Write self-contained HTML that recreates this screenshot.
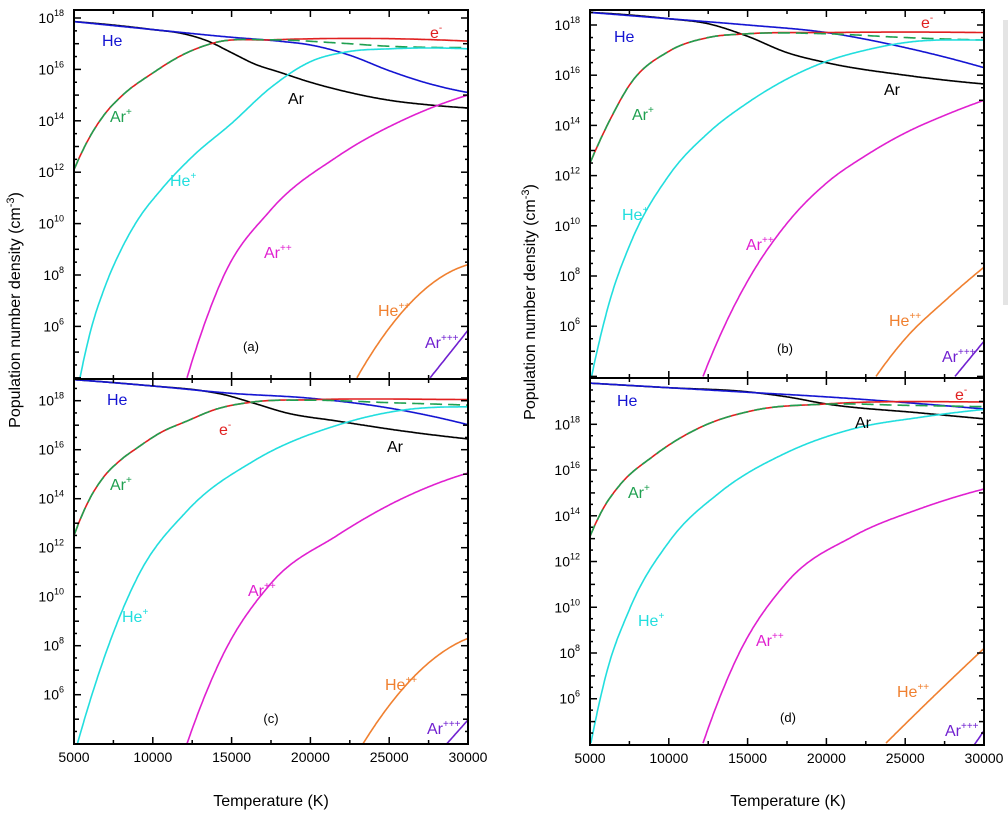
<!DOCTYPE html>
<html><head><meta charset="utf-8">
<style>
body{margin:0;background:#fff;}
svg{display:block;font-family:"Liberation Sans",Arial,sans-serif;}
</style></head>
<body>
<svg id="fig" width="1008" height="815" viewBox="0 0 1008 815">
<rect x="1003" y="20" width="5" height="285" fill="#e4e4e4"/>
<text x="0" y="0" transform="translate(20,310) rotate(-90)" text-anchor="middle" font-size="16">Population number density (cm<tspan dy="-6" font-size="11">-3</tspan><tspan dy="6">)</tspan></text>
<text x="0" y="0" transform="translate(535,302) rotate(-90)" text-anchor="middle" font-size="16">Population number density  (cm<tspan dy="-6" font-size="11">-3</tspan><tspan dy="6">)</tspan></text>
<text x="271" y="806" text-anchor="middle" font-size="16">Temperature (K)</text>
<text x="788" y="806" text-anchor="middle" font-size="16">Temperature (K)</text>
</svg>
<script>
// ---- data (log10 of density, cm^-3) ----
const xTicks=[5000,10000,15000,20000,25000,30000];
// panel (a)
const aHeT=[5000,10000,15000,18000,20000,22500,25000,27500,30000], aHe=[17.86,17.55,17.25,17.1,16.95,16.55,15.95,15.45,15.1];
const aArT=[5000,10000,12000,13500,15000,16500,18000,20000,22500,25000,27500,30000], aAr=[17.86,17.55,17.38,17.1,16.65,16.2,15.9,15.5,15.1,14.8,14.62,14.5];
const aEt=[5000,6000,7000,8000,10000,12000,14000,17500,30000], aE=[12.1,13.37,14.3,14.95,15.86,16.6,17.05,17.15,17.1];
const aArpT=[5000,6000,7000,8000,10000,12000,14000,17500,21700,25000,30000], aArp=[12.1,13.37,14.3,14.95,15.86,16.6,17.05,17.15,17.03,16.9,16.85];
const aHepT=[5380,6000,7000,8000,9000,10500,12500,15000,17500,20000,22500,25000,30000], aHep=[4.0,5.7,7.6,9.0,10.1,11.3,12.6,13.9,15.3,16.3,16.7,16.8,16.8];
const aArppT=[12170,13000,14450,17440,21690,25880,30000], aArpp=[4,5.6,7.9,10.5,12.6,14.03,15.0];
const aHeppT=[22950,25880,30000], aHepp=[4,6.6,8.4];
const aArpppT=[27600,30000], aArppp=[4,5.85];
// panel (b)
const bHeT=[5000,10000,15000,20000,25000,30000], bHe=[18.5,18.25,18.0,17.7,17.1,16.3];
const bArT=[5000,10000,12500,15000,17500,20000,25000,30000], bAr=[18.5,18.25,18.05,17.55,16.9,16.5,16.0,15.65];
const bEt=[5000,6250,7500,10000,12500,15000,20000,30000], bE=[12.5,14.2,15.6,16.95,17.5,17.65,17.7,17.7];
const bArpT=[5000,6250,7500,10000,12500,15000,20000,25000,30000], bArp=[12.5,14.2,15.6,16.95,17.5,17.65,17.65,17.5,17.4];
const bHepT=[5100,6250,7500,10000,12500,15000,17500,20000,22500,25000,30000], bHep=[4,7.0,9.2,12.0,13.7,14.9,15.85,16.55,17.0,17.3,17.4];
const bArppT=[12170,13750,15000,17500,20000,22500,25000,27500,30000], bArpp=[4,6.3,7.8,10.1,11.7,12.8,13.7,14.4,15.0];
const bHeppT=[23150,25000,27500,30000], bHepp=[4,5.5,7.0,8.35];
const bArpppT=[28160,30000], bArppp=[4,5.4];
// panel (c)
const cHeT=[5000,10000,15000,20000,25000,30000], cHe=[18.86,18.6,18.3,18.1,17.7,17.02];
const cArT=[5000,10000,13200,14500,16400,18500,21700,25900,30000], cAr=[18.86,18.6,18.4,18.25,17.9,17.5,17.17,16.76,16.44];
const cEt=[5000,6000,6840,8000,9000,10500,12170,14000,16400,20000,30000], cE=[12.5,14.0,14.85,15.6,16.07,16.7,17.17,17.65,17.95,18.04,18.05];
const cArpT=[5000,6000,6840,8000,9000,10500,12170,14000,16400,20000,25000,30000], cArp=[12.5,14.0,14.85,15.6,16.07,16.7,17.17,17.65,17.95,18.02,17.92,17.82];
const cHepT=[5200,6840,9000,12170,16400,21700,25900,30000], cHep=[3.96,7.37,10.76,13.5,15.54,17.0,17.62,17.75];
const cArppT=[12170,14260,17440,21700,25900,30000], cArpp=[4,7.37,10.5,12.5,14.03,15.05];
const cHeppT=[23340,25900,30000], cHepp=[4,6.27,8.3];
const cArpppT=[28660,30000], cArppp=[4,4.97];
// panel (d)
const dHeT=[5000,10000,15000,20000,25000,30000], dHe=[19.8,19.6,19.4,19.2,18.95,18.67];
const dArT=[5000,10000,15000,17500,20000,25900,30000], dAr=[19.8,19.6,19.42,19.2,18.89,18.5,18.24];
const dEt=[5000,5800,6840,9000,12170,15340,20000,30000], dE=[13.1,14.27,15.3,16.6,17.92,18.6,18.89,18.98];
const dArpT=[5000,5800,6840,9000,12170,15340,20000,25000,30000], dArp=[13.1,14.27,15.3,16.6,17.92,18.6,18.88,18.83,18.77];
const dHepT=[5060,6000,7500,10000,13200,17440,21690,25900,30000], dHep=[4.06,7.0,9.9,12.85,15.0,16.75,17.8,18.3,18.65];
const dArppT=[12170,14260,17440,21690,25900,30000], dArpp=[4.06,7.7,11.05,13.1,14.3,15.17];
const dHeppT=[23780,25900,30000], dHepp=[4.06,5.5,8.2];
const dArpppT=[29400,30000], dArppp=[4,4.6];

const NS="http://www.w3.org/2000/svg";
const svg=document.getElementById('fig');
function mk(tag,attrs,parent){const e=document.createElementNS(NS,tag);for(const k in attrs)e.setAttribute(k,attrs[k]);(parent||svg).appendChild(e);return e;}

const panels=[
 {id:"a",x0:74,x1:468,y0:10,y1:379,refY:18,ppd:25.7,
  series:[[aArT,aAr,"#000","Ar"],[aHeT,aHe,"#1414d2","He"],[aEt,aE,"#e02020","e"],[aArpT,aArp,"#1fa050","Arp"],[aHepT,aHep,"#22dede","Hep"],[aArppT,aArpp,"#e020d0","Arpp"],[aHeppT,aHepp,"#f08030","Hepp"],[aArpppT,aArppp,"#7020d0","Arppp"]],
  labels:[["He",102,46,"#1414d2",""],["e",430,38,"#e02020","-"],["Ar",288,104,"#000",""],["Ar",110,122,"#1fa050","+"],["He",170,186,"#22dede","+"],["Ar",264,258,"#e020d0","++"],["He",378,316,"#f08030","++"],["Ar",425,348,"#7020d0","+++"],["(a)",251,351,"#000",""]]},
 {id:"b",x0:590,x1:984,y0:10,y1:378,refY:25,ppd:25.1,
  series:[[bArT,bAr,"#000","Ar"],[bHeT,bHe,"#1414d2","He"],[bEt,bE,"#e02020","e"],[bArpT,bArp,"#1fa050","Arp"],[bHepT,bHep,"#22dede","Hep"],[bArppT,bArpp,"#e020d0","Arpp"],[bHeppT,bHepp,"#f08030","Hepp"],[bArpppT,bArppp,"#7020d0","Arppp"]],
  labels:[["He",614,42,"#1414d2",""],["e",921,28,"#e02020","-"],["Ar",884,95,"#000",""],["Ar",632,120,"#1fa050","+"],["He",622,220,"#22dede","+"],["Ar",746,250,"#e020d0","++"],["He",889,326,"#f08030","++"],["Ar",942,362,"#7020d0","+++"],["(b)",785,353,"#000",""]]},
 {id:"c",x0:74,x1:468,y0:379,y1:744,refY:400.7,ppd:24.5,
  series:[[cArT,cAr,"#000","Ar"],[cHeT,cHe,"#1414d2","He"],[cEt,cE,"#e02020","e"],[cArpT,cArp,"#1fa050","Arp"],[cHepT,cHep,"#22dede","Hep"],[cArppT,cArpp,"#e020d0","Arpp"],[cHeppT,cHepp,"#f08030","Hepp"],[cArpppT,cArppp,"#7020d0","Arppp"]],
  labels:[["He",107,405,"#1414d2",""],["e",219,435,"#e02020","-"],["Ar",387,452,"#000",""],["Ar",110,490,"#1fa050","+"],["He",122,622,"#22dede","+"],["Ar",248,596,"#e020d0","++"],["He",385,690,"#f08030","++"],["Ar",427,734,"#7020d0","+++"],["(c)",271,723,"#000",""]]},
 {id:"d",x0:590,x1:984,y0:378,y1:745,refY:424.3,ppd:22.87,
  series:[[dArT,dAr,"#000","Ar"],[dHeT,dHe,"#1414d2","He"],[dEt,dE,"#e02020","e"],[dArpT,dArp,"#1fa050","Arp"],[dHepT,dHep,"#22dede","Hep"],[dArppT,dArpp,"#e020d0","Arpp"],[dHeppT,dHepp,"#f08030","Hepp"],[dArpppT,dArppp,"#7020d0","Arppp"]],
  labels:[["He",617,406,"#1414d2",""],["e",955,400,"#e02020","-"],["Ar",855,428,"#000",""],["Ar",628,498,"#1fa050","+"],["He",638,626,"#22dede","+"],["Ar",756,646,"#e020d0","++"],["He",897,697,"#f08030","++"],["Ar",945,736,"#7020d0","+++"],["(d)",788,722,"#000",""]]}
];

const nameMap={He:"he",Ar:"ar",e:"electron",Arp:"ar-plus",Hep:"he-plus",Arpp:"ar-2plus",Hepp:"he-2plus",Arppp:"ar-3plus"};

// smooth cubic Hermite interpolation with weighted three-point tangents
function smoothInterp(xs,ys){
  const n=xs.length;
  if(n<3){return t=>ys[0]+(ys[n-1]-ys[0])*(t-xs[0])/(xs[n-1]-xs[0]);}
  const d=[],m=new Array(n);
  for(let i=0;i<n-1;i++)d.push((ys[i+1]-ys[i])/(xs[i+1]-xs[i]));
  for(let i=1;i<n-1;i++){const h0=xs[i]-xs[i-1],h1=xs[i+1]-xs[i];m[i]=(h1*d[i-1]+h0*d[i])/(h0+h1);}
  m[0]=2*d[0]-m[1]; if(m[0]*d[0]<0)m[0]=0;
  m[n-1]=2*d[n-2]-m[n-2]; if(m[n-1]*d[n-2]<0)m[n-1]=0;
  return t=>{
    let i=0; while(i<n-2&&t>xs[i+1])i++;
    const h=xs[i+1]-xs[i],s=(t-xs[i])/h;
    const h00=2*s*s*s-3*s*s+1,h10=s*s*s-2*s*s+s,h01=-2*s*s*s+3*s*s,h11=s*s*s-s*s;
    return h00*ys[i]+h10*h*m[i]+h01*ys[i+1]+h11*h*m[i+1];
  };
}

panels.forEach(P=>{
  const g=mk("g",{});
  
  
  const xs=t=>P.x0+(t-5000)/25000*(P.x1-P.x0);
  const ys=v=>P.refY+(18-v)*P.ppd;
  const clipId="clip"+P.id;
  const cp=mk("clipPath",{id:clipId},g);
  mk("rect",{x:P.x0,y:P.y0,width:P.x1-P.x0,height:P.y1-P.y0},cp);
  const sg=mk("g",{"clip-path":"url(#"+clipId+")"},g);
  P.series.forEach(s=>{
    const T=s[0],V=s[1],f=smoothInterp(T,V);
    const pts=[];
    for(let t=T[0];t<T[T.length-1];t+=50)pts.push([xs(t),ys(f(t))]);
    pts.push([xs(T[T.length-1]),ys(V[V.length-1])]);
    const d="M"+pts.map(p=>p[0].toFixed(1)+","+p[1].toFixed(1)).join("L");
    const p=mk("path",{d:d,fill:"none",stroke:s[2],"stroke-width":1.6,"stroke-linejoin":"round"},sg);
    if(s[3]==="Arp")p.setAttribute("stroke-dasharray","12,6");
    
    
  });
  const fr=mk("rect",{x:P.x0,y:P.y0,width:P.x1-P.x0,height:P.y1-P.y0,fill:"none",stroke:"#000","stroke-width":2},g);
  
  
  for(let t=5000;t<=30000;t+=2500){
    const x=xs(t),len=(t%5000===0)?7:4;
    mk("line",{x1:x,x2:x,y1:P.y1,y2:P.y1-len,stroke:"#000","stroke-width":1.5},g);
    mk("line",{x1:x,x2:x,y1:P.y0,y2:P.y0+len,stroke:"#000","stroke-width":1.5},g);
  }
  if(P.id==="c"||P.id==="d"){
    xTicks.forEach(t=>{
      const tx=mk("text",{x:xs(t),y:P.y1+18,"text-anchor":"middle","font-size":14},g);
      tx.textContent=t;
      
      
    });
  }
  for(let v=0;v<=22;v+=0.5){
    const y=ys(v); if(y<P.y0+1||y>P.y1-1)continue;
    const len=(v%2===0)?7:(v%1===0?5:3);
    mk("line",{x1:P.x0,x2:P.x0+len,y1:y,y2:y,stroke:"#000","stroke-width":1.5},g);
    mk("line",{x1:P.x1,x2:P.x1-len,y1:y,y2:y,stroke:"#000","stroke-width":1.5},g);
    if(v%2===0&&v>=6&&v<=18){
      const tx=mk("text",{x:P.x0-10,y:y+5,"text-anchor":"end","font-size":14},g);
      tx.innerHTML='10<tspan dy="-7" font-size="9">'+v+'</tspan>';
      
      
    }
  }
  P.labels.forEach(L=>{
    const tx=mk("text",{x:L[1],y:L[2],"font-size":16,fill:L[3],"text-anchor":L[0].startsWith("(")?"middle":"start"},g);
    if(L[0].startsWith("("))tx.setAttribute("font-size",13);
    tx.innerHTML=L[0]+(L[4]?'<tspan dy="-7" font-size="10">'+L[4]+'</tspan>':'');
    
    
  });
});
</script>
</body></html>
